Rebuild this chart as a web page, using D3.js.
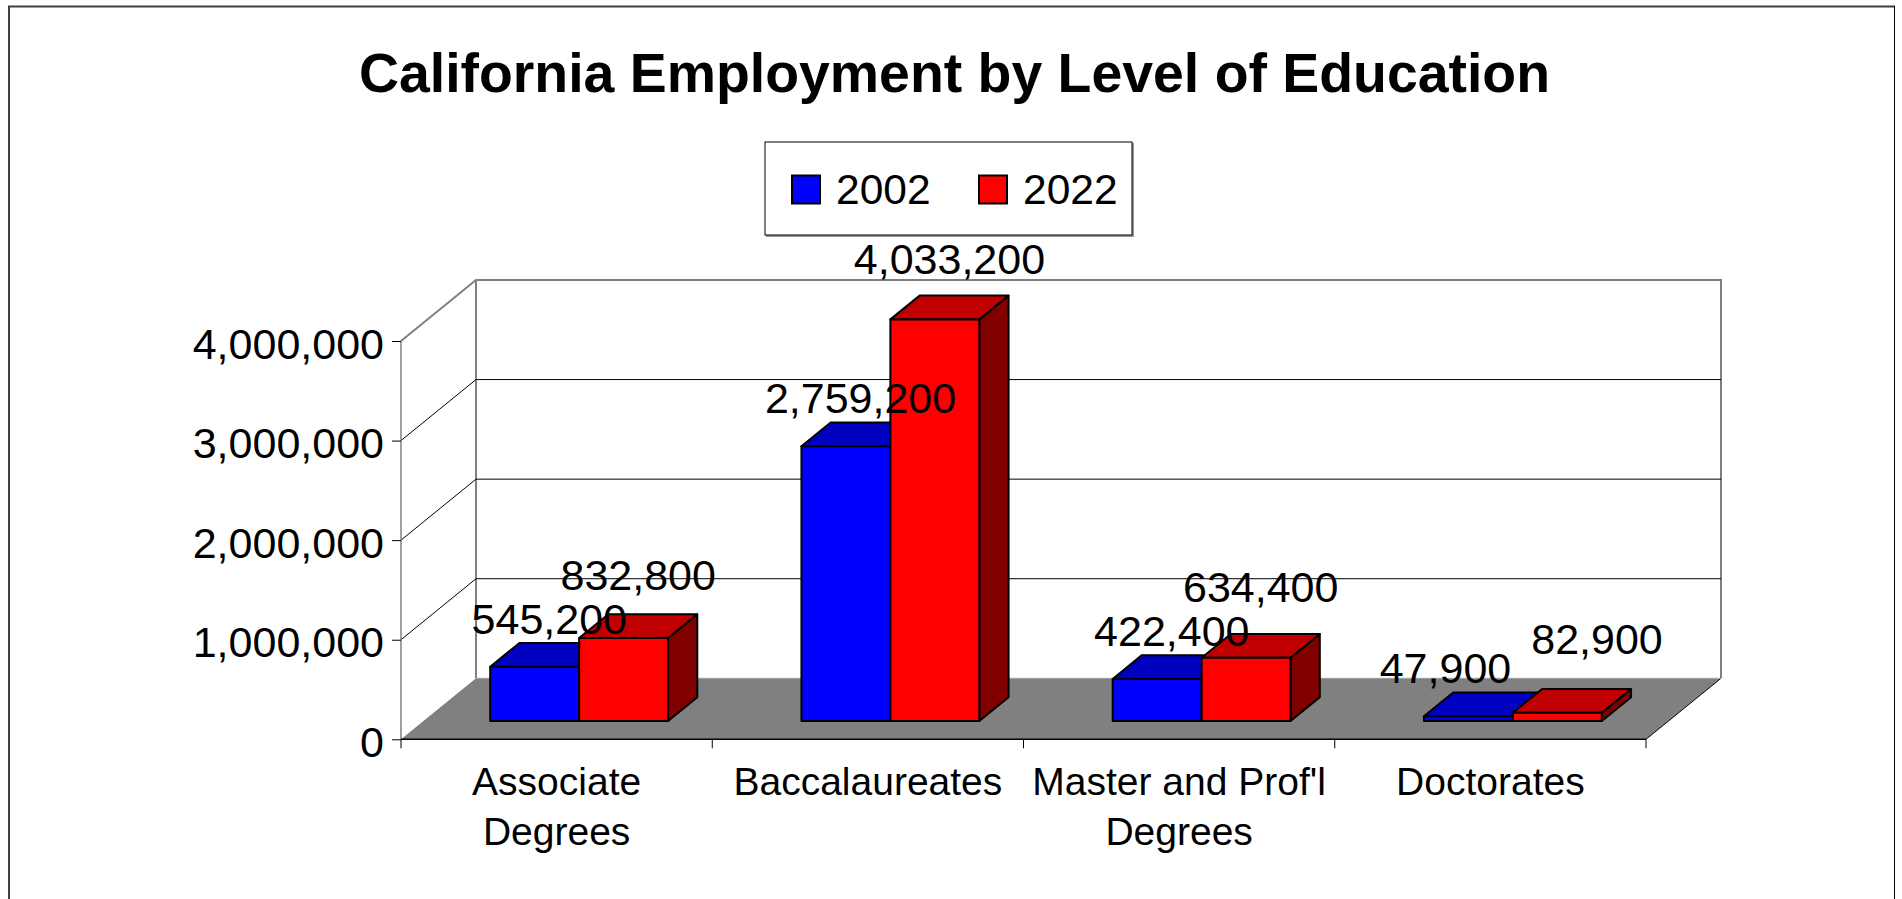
<!DOCTYPE html>
<html>
<head>
<meta charset="utf-8">
<script src="https://cdn.jsdelivr.net/npm/d3@7"></script>
<style>
  html, body { margin: 0; padding: 0; background: #fff; }
  svg { display: block; }
  text { font-family: "Liberation Sans", Arial, Helvetica, sans-serif; }
</style>
</head>
<body>
<svg id="chart" width="1902" height="899"></svg>
<script>
// ---- Data ----
const title = "California Employment by Level of Education";
const categories = ["Associate Degrees", "Baccalaureates", "Master and Prof'l Degrees", "Doctorates"];
const seriesNames = ["2002", "2022"];
const values2002 = [545200, 2759200, 422400, 47900];
const values2022 = [832800, 4033200, 634400, 82900];
const yTicks = [0, 1000000, 2000000, 3000000, 4000000];

// ---- Styles ----
const seriesStyle = {
  "2002": { front: "#0000FF", top: "#0000C0", side: "#000080", labelLift: 21 },
  "2022": { front: "#FF0000", top: "#C00000", side: "#800000", labelLift: 33 }
};
const seriesValues = { "2002": values2002, "2022": values2022 };

const svg = d3.select("#chart");
const fmt = d3.format(",");
const LABEL_SIZE = 43;

// ---- Geometry ----
const plotLeft = 401, plotRight = 1646;
const DX = 75, DY = -61;          // full depth offset of floor / walls
const z0 = 0.30, z1 = 0.69;       // bar depth span (fraction of full depth)

const x = d3.scaleBand().domain(categories).range([plotLeft, plotRight]).paddingInner(0).paddingOuter(0);
const sub = d3.scaleBand().domain(seriesNames).range([0, x.bandwidth()]).paddingInner(0).paddingOuter(0.75);
const y = d3.scaleLinear().domain([0, 4000000]).range([739.3, 341]);

const yMax = d3.max(yTicks);

// ---- Frame ----
svg.append("line").attr("x1", 8).attr("x2", 1895).attr("y1", 6.5).attr("y2", 6.5)
  .attr("stroke", "#404040").attr("stroke-width", 2);
svg.append("line").attr("x1", 9).attr("x2", 9).attr("y1", 6).attr("y2", 899)
  .attr("stroke", "#404040").attr("stroke-width", 2);
svg.append("line").attr("x1", 1894.5).attr("x2", 1894.5).attr("y1", 6).attr("y2", 899)
  .attr("stroke", "#000").attr("stroke-width", 1);

// ---- Title ----
svg.append("text").attr("x", 954.5).attr("y", 92).attr("text-anchor", "middle")
  .attr("font-size", 55.4).attr("font-weight", "bold").attr("fill", "#000").text(title);

// ---- Legend ----
const lg = svg.append("g");
lg.append("rect").attr("x", 766).attr("y", 143).attr("width", 368).attr("height", 94)
  .attr("fill", "#999");
lg.append("rect").attr("x", 765).attr("y", 142).attr("width", 367).attr("height", 93)
  .attr("fill", "#fff").attr("stroke", "#000").attr("stroke-width", 1);
const legendX = [792, 979];
seriesNames.forEach((s, i) => {
  lg.append("rect").attr("x", legendX[i]).attr("y", 175.5).attr("width", 28).attr("height", 28)
    .attr("fill", seriesStyle[s].front).attr("stroke", "#000").attr("stroke-width", 2);
  lg.append("text").attr("x", legendX[i] + 44).attr("y", 203.5).attr("font-size", 42.5)
    .attr("fill", "#000").text(s);
});

// ---- Walls ----
const y0 = y(0);
svg.append("path")
  .attr("d", `M${plotLeft},${y(yMax)} L${plotLeft + DX},${y(yMax) + DY} L${plotRight + DX},${y(yMax) + DY} L${plotRight + DX},${y0 + DY}`)
  .attr("fill", "none").attr("stroke", "#808080").attr("stroke-width", 2);
svg.append("line").attr("x1", plotLeft + DX).attr("x2", plotLeft + DX)
  .attr("y1", y(yMax) + DY).attr("y2", y0 + DY).attr("stroke", "#808080").attr("stroke-width", 2);

// gridlines
yTicks.filter(t => t > 0 && t < yMax).forEach(t => {
  svg.append("line").attr("x1", plotLeft + DX).attr("x2", plotRight + DX)
    .attr("y1", y(t) + DY).attr("y2", y(t) + DY).attr("stroke", "#000").attr("stroke-width", 1);
  svg.append("line").attr("x1", plotLeft).attr("x2", plotLeft + DX)
    .attr("y1", y(t)).attr("y2", y(t) + DY).attr("stroke", "#000").attr("stroke-width", 1);
});

// floor
svg.append("polygon")
  .attr("points", [[plotLeft, y0], [plotRight, y0], [plotRight + DX, y0 + DY], [plotLeft + DX, y0 + DY]].map(p => p.join(",")).join(" "))
  .attr("fill", "#808080");
svg.append("line").attr("x1", plotRight).attr("y1", y0).attr("x2", plotRight + DX).attr("y2", y0 + DY)
  .attr("stroke", "#000").attr("stroke-width", 1);
svg.append("line").attr("x1", plotLeft + DX).attr("y1", y0 + DY).attr("x2", plotRight + DX).attr("y2", y0 + DY)
  .attr("stroke", "#a0a0a0").attr("stroke-width", 1);

// ---- Y axis ----
svg.append("line").attr("x1", plotLeft).attr("x2", plotLeft).attr("y1", y(yMax)).attr("y2", y0)
  .attr("stroke", "#808080").attr("stroke-width", 1.5);
const yAxis = d3.axisLeft(y).tickValues(yTicks).tickSize(9).tickPadding(8).tickFormat(fmt);
const yg = svg.append("g").attr("transform", `translate(${plotLeft},0)`).call(yAxis);
yg.select(".domain").remove();
yg.selectAll(".tick line").attr("stroke", "#000").attr("stroke-width", 1);
yg.selectAll(".tick text").attr("font-size", 43).attr("fill", "#000")
  .attr("font-family", "'Liberation Sans', Arial, sans-serif").attr("dy", "0.4em");

// ---- X axis ----
svg.append("line").attr("x1", plotLeft).attr("x2", plotRight).attr("y1", y0).attr("y2", y0)
  .attr("stroke", "#000").attr("stroke-width", 1.5);
const tickXs = categories.map(c => x(c)).concat([plotRight]);
tickXs.forEach(tx => {
  svg.append("line").attr("x1", tx).attr("x2", tx).attr("y1", y0).attr("y2", y0 + 9)
    .attr("stroke", "#000").attr("stroke-width", 1);
});
const CAT_SIZE = 39;
categories.forEach(c => {
  const cx = x(c) + x.bandwidth() / 2;
  const t = svg.append("text").attr("x", cx).attr("y", 795).attr("text-anchor", "middle")
    .attr("font-size", CAT_SIZE).attr("fill", "#000");
  const words = c.split(" ");
  let lines = [], cur = [];
  const probe = svg.append("text").attr("font-size", CAT_SIZE).attr("visibility", "hidden");
  words.forEach(w => {
    const test = cur.concat([w]).join(" ");
    probe.text(test);
    if (cur.length && probe.node().getComputedTextLength() > x.bandwidth() - 4) {
      lines.push(cur.join(" ")); cur = [w];
    } else cur.push(w);
  });
  lines.push(cur.join(" "));
  probe.remove();
  lines.forEach((ln, i) => {
    t.append("tspan").attr("x", cx).attr("y", 795 + i * 50).text(ln);
  });
});

// ---- Bars ----
const ddx = (z1 - z0) * DX, ddy = (z1 - z0) * DY;
const barsG = svg.append("g");
const labelsByCat = [];
categories.forEach((c, ci) => {
  const group = [];
  seriesNames.forEach(s => {
    const v = seriesValues[s][ci];
    const st = seriesStyle[s];
    const bx0 = x(c) + sub(s) + z0 * DX;
    const bx1 = bx0 + sub.bandwidth();
    const yb = y(0) + z0 * DY;
    const yt = y(v) + z0 * DY;
    const g = barsG.append("g").attr("stroke", "#000").attr("stroke-width", 2).attr("stroke-linejoin", "round");
    g.append("polygon").attr("points", [[bx1, yt], [bx1 + ddx, yt + ddy], [bx1 + ddx, yb + ddy], [bx1, yb]].map(p => p.join(",")).join(" "))
      .attr("fill", st.side);
    g.append("polygon").attr("points", [[bx0, yt], [bx1, yt], [bx1 + ddx, yt + ddy], [bx0 + ddx, yt + ddy]].map(p => p.join(",")).join(" "))
      .attr("fill", st.top);
    g.append("rect").attr("x", bx0).attr("y", yt).attr("width", bx1 - bx0).attr("height", yb - yt)
      .attr("fill", st.front);
    group.push({ x: (bx0 + bx1) / 2 + ddx / 2, y: yt + ddy / 2 - st.labelLift, text: fmt(v) });
  });
  labelsByCat.push(group);
});

// ---- Data labels (simple overlap resolution inside a category) ----
const probe = svg.append("text").attr("font-size", LABEL_SIZE).attr("visibility", "hidden");
const textH = LABEL_SIZE * 0.72;
const clearGap = textH + 13;   // room for digits + comma descender
labelsByCat.forEach(group => {
  group.forEach(l => { probe.text(l.text); l.w = probe.node().getComputedTextLength(); });
  const [a, b] = group;
  const hOverlap = (a.x + a.w / 2) - (b.x - b.w / 2);
  const gap = a.y - b.y;
  if (hOverlap > 0 && gap < clearGap) {
    if (gap < textH * 0.75) {
      // labels nearly level: spread them sideways
      const need = hOverlap + 20;
      a.x -= need * 0.6;
      b.x += need * 0.4;
      b.y = a.y - textH + 2;
    } else {
      // lift the taller bar's label clear of the other
      b.y = a.y - clearGap;
    }
  }
});
probe.remove();

svg.append("g").selectAll("text").data(labelsByCat.flat()).join("text")
  .attr("x", d => d.x).attr("y", d => d.y).attr("text-anchor", "middle")
  .attr("font-size", LABEL_SIZE).attr("fill", "#000").text(d => d.text);
</script>
</body>
</html>
